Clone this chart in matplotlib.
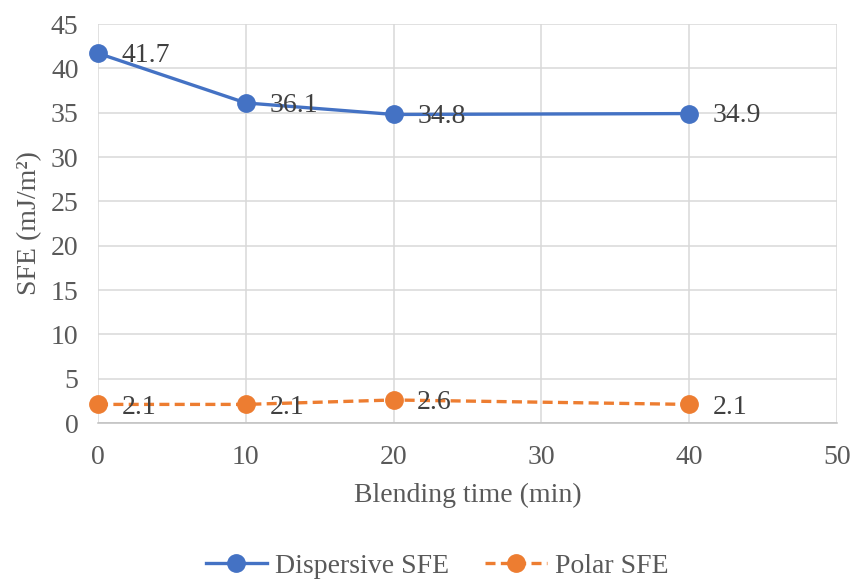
import matplotlib.pyplot as plt

TEXT_COLOR = "#404040"
GRID_COLOR = "#D9D9D9"
BLUE = "#4472C4"
ORANGE = "#ED7D31"

blend_time = [0, 10, 20, 40]
dispersive_sfe = [41.7, 36.1, 34.8, 34.9]
polar_sfe = [2.1, 2.1, 2.6, 2.1]
x_ticks = [0, 10, 20, 30, 40, 50]
y_ticks = [0, 5, 10, 15, 20, 25, 30, 35, 40, 45]

plt.rcParams["font.family"] = ["Liberation Serif", "DejaVu Serif"]
FS = 20

fig = plt.figure(figsize=(8.54, 5.83), dpi=100)
ax = fig.add_axes([0.1148, 0.2744, 0.8652, 0.6844])

ax.plot(blend_time, dispersive_sfe, color=BLUE, linewidth=2.4, marker="o",
        markersize=12.5, label="Dispersive SFE", zorder=3, clip_on=False)
ax.plot(blend_time, polar_sfe, color=ORANGE, linewidth=2.4, linestyle=(0, (3, 1.6)),
        marker="o", markersize=12.5, label="Polar SFE", zorder=3, clip_on=False)

for x, y in zip(blend_time, dispersive_sfe):
    ax.annotate(f"{y:.1f}", (x, y), xytext=(17, -1.5), textcoords="offset points",
                va="center", ha="left", fontsize=FS, color=TEXT_COLOR, zorder=4)
for x, y in zip(blend_time, polar_sfe):
    ax.annotate(f"{y:.1f}", (x, y), xytext=(17, -2), textcoords="offset points",
                va="center", ha="left", fontsize=FS, color=TEXT_COLOR, zorder=4)

ax.set_xlim(0, 50)
ax.set_ylim(0, 45)
ax.set_xticks(x_ticks)
ax.set_yticks(y_ticks)
ax.tick_params(axis="both", length=0, labelsize=FS, labelcolor="#595959")
ax.tick_params(axis="x", pad=16)
ax.tick_params(axis="y", pad=14)
ax.grid(True, color=GRID_COLOR, linewidth=1.1)
ax.set_axisbelow(True)
for side in ["top", "right", "left"]:
    ax.spines[side].set_visible(False)
ax.spines["bottom"].set_color("#BFBFBF")
ax.spines["bottom"].set_linewidth(1.1)

ax.set_xlabel("Blending time (min)", fontsize=FS, color="#595959", labelpad=9)
ax.set_ylabel("SFE (mJ/m²)", fontsize=FS, color="#595959", labelpad=6)

ax.legend(loc="center", bbox_to_anchor=(0.459, -0.358), ncol=2, frameon=False,
          fontsize=FS, labelcolor="#595959", handlelength=2.2, handletextpad=0.3,
          columnspacing=1.3)

fig.savefig("out.png", dpi=100, facecolor="white")
